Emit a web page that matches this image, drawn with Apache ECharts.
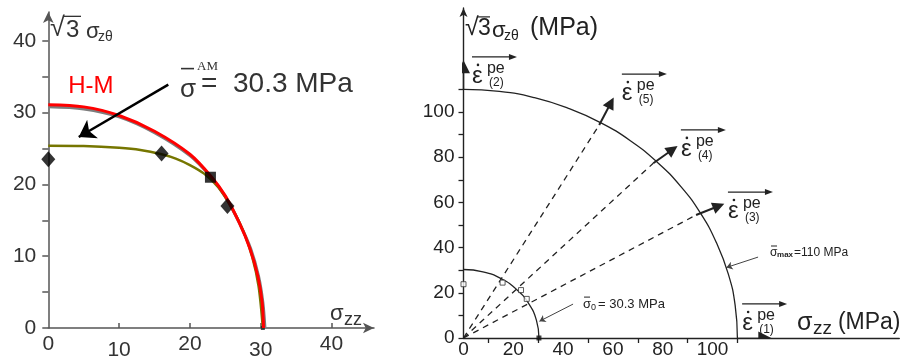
<!DOCTYPE html>
<html><head><meta charset="utf-8">
<script src="https://cdn.jsdelivr.net/npm/echarts@6/dist/echarts.min.js"></script>
<style>html,body{margin:0;padding:0;background:#fff}#c{width:901px;height:361px}</style>
</head><body><div id="c"></div>
<script>
// ---------------- Left panel data ----------------
const leftXLabels = [0, 10, 20, 30, 40];
const leftXTicks = [10, 20, 30, 40];
const leftYLabels = [0, 10, 20, 30, 40];
const leftYTicks = [0, 5, 10, 15, 20, 25, 30, 35, 40];
const hmCurve = [[0,31.1],[5,30.8],[10,29.6],[15,27.4],[20,24.2],[23,21.1],[25,18.4],[27,14.6],[28.5,11.0],[29.6,7.2],[30.2,3.6],[30.4,0]];
const grayCurve = [[0,30.8],[5,30.5],[10,29.4],[15,27.2],[20,24.0],[23,21.0],[25,18.3],[27,14.6],[28.6,11.0],[29.7,7.2],[30.3,3.6],[30.6,0]];
const amCurve = [[0,25.4],[5,25.35],[10,25.1],[13,24.8],[16,24.2],[18,23.6],[20,22.7],[22,21.5],[24,19.6],[26,16.6],[27.5,13.6],[28.8,9.9],[29.7,5.8],[30.3,0]];
const expDiamond = [[0,23.5],[16,24.3],[25.3,17]];
const expSquare = [[22.9,21]];
const expEnd = [[30.3,0]];
const hmLabelAt = [2.8, 33.6];
const amLabelAt = [18.6, 33.9];
const amArrow = [[16.95,33.9],[4.3,26.6]];

// ---------------- Right panel data ----------------
const rightXLabels = [0, 20, 40, 60, 80, 100];
const rightXTicks = [10, 30, 50, 70, 90, 110];
const rightYLabels = [0, 20, 40, 60, 80, 100];
const rightYTicks = [0, 10, 20, 30, 40, 50, 60, 70, 80, 90, 100, 110];
const yield0 = [[0,30.3],[7.8,29.3],[15.2,26.2],[21.4,21.4],[26.2,15.2],[29.3,7.8],[30.3,0]];
const yieldMax = [[0,110],[14.4,109.1],[28.5,106.3],[42.1,101.6],[55,95.3],[67,87.3],[77.8,77.8],[87.3,67],[95.3,55],[101.6,42.1],[106.3,28.5],[109.1,14.4],[110,0]];
const loadPaths = [[[0,0],[93.4,54.4]], [[0,0],[76.2,77.3]], [[0,0],[54.5,94.2]]];
const flowArrows = [[[93.4,54.4],[102.5,58.4]], [[76.2,77.3],[84.0,83.4]], [[54.5,94.2],[59.2,104.1]]];
const axisFlow = [[[110,0],[121,0]], [[0,110],[0,120]]];
const expRight = [[0,23.8],[15.7,24.5],[23.1,21.2],[25.4,17.3]];
const expRightEnd = [[30.3,0]];
const sig0LabelAt = [48, 15];
const sig0Arrow = [[44,15],[30.5,7.4]];
const sigMaxLabelAt = [123.1, 37.6];
const sigMaxArrow = [[118.3,35.8],[105.6,31.2]];
const vecAnchors = [[111.9,7.1],[3.4,116.4],[106.2,56.6],[87.3,84.1],[63.6,108.8]];
const vecIndex = ['(1)','(2)','(3)','(4)','(5)'];
const leftYTitleAt = [0.24, 41.6];
const leftXTitleAt = [39.8, 2.0];
const rightYTitleAt = [0.6, 137.2];
const rightXTitleAt = [133.9, 6.6];

const ink = '#222';
const inkL = '#333';
const FF = '"Liberation Sans", Arial, sans-serif';

const chart = echarts.init(document.getElementById('c'), null, {renderer:'canvas'});

function lo(v){ return (v===10||v===30) ? '{lo|'+v+'}' : '{hi|'+v+'}'; }

const option = {
  animation: false,
  backgroundColor: '#fff',
  grid: [
    {left: 48.3, top: 12.1, width: 325.7, height: 317.2},
    {left: 463.5, top: 8, width: 435.75, height: 330}
  ],
  xAxis: [
    {gridIndex:0, type:'value', min:0, max:46, interval:10,
     axisLine:{show:true, lineStyle:{color:'#555', width:1.5}, symbol:['none','arrow'], symbolSize:[8,11]},
     axisTick:{show:true, inside:true, length:5, customValues:leftXTicks, lineStyle:{color:'#555', width:1.5}},
     axisLabel:{customValues:leftXLabels, margin:6, color:inkL, fontFamily:FF, fontSize:21,
       formatter: lo, rich:{lo:{fontSize:21, fontFamily:FF, color:inkL, padding:[6,0,0,0]}, hi:{fontSize:21, fontFamily:FF, color:inkL}}},
     splitLine:{show:false}},
    {gridIndex:1, type:'value', min:0, max:175, interval:20,
     axisLine:{show:true, lineStyle:{color:ink, width:1.4}},
     axisTick:{show:true, length:5, customValues:rightXTicks, lineStyle:{color:ink, width:1.3}},
     axisLabel:{customValues:rightXLabels, margin:2, color:ink, fontFamily:FF, fontSize:19},
     splitLine:{show:false}}
  ],
  yAxis: [
    {gridIndex:0, type:'value', min:0, max:44, interval:10,
     axisLine:{show:true, lineStyle:{color:'#555', width:1.5}, symbol:['none','arrow'], symbolSize:[8,11]},
     axisTick:{show:true, length:6, customValues:leftYTicks, lineStyle:{color:'#555', width:1.5}},
     axisLabel:{customValues:leftYLabels, margin:12, color:inkL, fontFamily:FF, fontSize:21},
     splitLine:{show:false}},
    {gridIndex:1, type:'value', min:0, max:146, interval:20,
     axisLine:{show:true, lineStyle:{color:ink, width:1.4}, symbol:['none','arrow'], symbolSize:[6,9]},
     axisTick:{show:true, length:5, customValues:rightYTicks, lineStyle:{color:ink, width:1.3}},
     axisLabel:{customValues:rightYLabels, margin:9, color:ink, fontFamily:FF, fontSize:19},
     splitLine:{show:false}}
  ],
  series: [
    {type:'line', xAxisIndex:0, yAxisIndex:0, data:grayCurve, smooth:0.3, symbol:'none', lineStyle:{color:'#7d7d7d', width:3}, z:2},
    {type:'line', xAxisIndex:0, yAxisIndex:0, data:amCurve, smooth:0.3, symbol:'none', lineStyle:{color:'#767600', width:2.5}, z:3},
    {type:'line', xAxisIndex:0, yAxisIndex:0, data:hmCurve, smooth:0.3, symbol:'none', lineStyle:{color:'#ff0000', width:3}, z:4},
    {type:'scatter', xAxisIndex:0, yAxisIndex:0, data:expDiamond, symbol:'diamond', symbolSize:[14,16], itemStyle:{color:'#000'}, z:6},
    {type:'scatter', xAxisIndex:0, yAxisIndex:0, data:expSquare, symbol:'rect', symbolSize:11, itemStyle:{color:'#000'}, z:6},
    {type:'scatter', xAxisIndex:0, yAxisIndex:0, data:expEnd, symbol:'rect', symbolSize:4, itemStyle:{color:'#222'}, z:3},
    {type:'lines', coordinateSystem:'cartesian2d', xAxisIndex:0, yAxisIndex:0, data:[{coords:amArrow}],
     symbol:['none','arrow'], symbolSize:16, lineStyle:{color:'#000', width:2.5, opacity:1}, itemStyle:{color:'#000'}, z:7},

    {type:'line', xAxisIndex:1, yAxisIndex:1, data:yield0, smooth:0.5, symbol:'none', lineStyle:{color:ink, width:1.3}},
    {type:'line', xAxisIndex:1, yAxisIndex:1, data:yieldMax, smooth:0.5, symbol:'none', lineStyle:{color:ink, width:1.3}},
    {type:'lines', coordinateSystem:'cartesian2d', xAxisIndex:1, yAxisIndex:1, data:loadPaths.map(c=>({coords:c})),
     symbol:'none', lineStyle:{color:ink, width:1.3, type:[6,5], opacity:1}},
    {type:'lines', coordinateSystem:'cartesian2d', xAxisIndex:1, yAxisIndex:1, data:flowArrows.map(c=>({coords:c})),
     symbol:['none','triangle'], symbolSize:12, lineStyle:{color:ink, width:2, opacity:1}, itemStyle:{color:ink}},
    {type:'lines', coordinateSystem:'cartesian2d', xAxisIndex:1, yAxisIndex:1, data:axisFlow.map(c=>({coords:c})),
     symbol:['none','triangle'], symbolSize:13, lineStyle:{color:ink, width:1.4, opacity:1}, itemStyle:{color:ink}},
    {type:'lines', coordinateSystem:'cartesian2d', xAxisIndex:1, yAxisIndex:1, data:[{coords:sig0Arrow},{coords:sigMaxArrow}],
     symbol:['none','arrow'], symbolSize:6, lineStyle:{color:'#444', width:1, opacity:1}, itemStyle:{color:'#444'}},
    {type:'scatter', xAxisIndex:1, yAxisIndex:1, data:expRight, symbol:'rect', symbolSize:5, itemStyle:{color:'#fff', borderColor:'#333', borderWidth:1}, z:6},
    {type:'scatter', xAxisIndex:1, yAxisIndex:1, data:expRightEnd, symbol:'rect', symbolSize:5, itemStyle:{color:'#111'}, z:6}
  ]
};
chart.setOption(option);

const P0 = p => chart.convertToPixel({gridIndex:0}, p);
const P1 = p => chart.convertToPixel({gridIndex:1}, p);
function T(text, x, y, size, extra){
  return {type:'text', x:x, y:y, z:100, style:Object.assign({text:text, font:size+'px '+FF, fill:ink, align:'left', verticalAlign:'middle'}, extra||{})};
}
function L(x1,y1,x2,y2,w,c){ return {type:'line', z:100, shape:{x1,y1,x2,y2}, style:{stroke:c||ink, lineWidth:w||1}}; }
function H(x,y,len,hw,c){ return {type:'polygon', z:100, shape:{points:[[x,y],[x-len,y-hw],[x-len,y+hw]]}, style:{fill:c||ink}}; }

const g = [];
// left y title
(function(){ const [x,y]=P0(leftYTitleAt);
  g.push(T('√', x, y-1, 27, {fill:inkL}));
  g.push(L(x+14, y-13, x+31, y-13, 1.3, inkL));
  g.push(T('3', x+16, y+1, 24, {fill:inkL}));
  g.push(T('σ', x+36, y+3, 22, {fill:inkL}));
  g.push(T('zθ', x+48, y+8, 14, {fill:inkL}));
})();
// left x title
(function(){ const [x,y]=P0(leftXTitleAt);
  g.push(T('σ', x, y, 22, {fill:inkL}));
  g.push(T('zz', x+14, y+6, 18, {fill:inkL}));
})();
// H-M
(function(){ const [x,y]=P0(hmLabelAt); g.push(T('H-M', x, y, 24, {fill:'#ff0000'})); })();
// sigma AM label
(function(){ const [x,y]=P0(amLabelAt);
  g.push(T('σ', x, y+5, 26, {fill:'#333'}));
  g.push(L(x+1, y-16, x+14, y-16, 1.6, '#333'));
  g.push(T('AM', x+17, y-18, 13, {fill:'#333', font:'13px "Liberation Serif", serif'}));
  g.push(T('=', x+21, y, 28, {fill:'#333'}));
  g.push(T('30.3 MPa', x+53, y, 28, {fill:'#333'}));
})();
// right y title
(function(){ const [x,y]=P1(rightYTitleAt);
  g.push(T('√', x, y, 25));
  g.push(L(x+12, y-11, x+25, y-11, 1.2));
  g.push(T('3', x+13, y+1, 23));
  g.push(T('σ', x+27, y+3, 22));
  g.push(T('zθ', x+39, y+8, 14));
  g.push(T('(MPa)', x+65, y, 25));
})();
// right x title
(function(){ const [x,y]=P1(rightXTitleAt);
  g.push(T('σ', x, y, 25));
  g.push(T('zz', x+16, y+6, 19));
  g.push(T('(MPa)', x+41, y, 23));
})();
// sigma0 label
(function(){ const [x,y]=P1(sig0LabelAt);
  g.push(T('σ', x, y, 13));
  g.push(L(x+1, y-7, x+7, y-7, 1));
  g.push(T('0', x+8, y+3, 9));
  g.push(T('= 30.3 MPa', x+15, y, 13));
})();
// sigma max label
(function(){ const [x,y]=P1(sigMaxLabelAt);
  g.push(T('σ', x, y, 12));
  g.push(L(x+1, y-7, x+7, y-7, 1));
  g.push(T('max', x+7, y+2, 8, {font:'bold 8px '+FF}));
  g.push(T('=110 MPa', x+24, y, 12));
})();
// strain-rate vector labels
vecAnchors.forEach((a,i)=>{
  const [x,y]=P1(a);
  g.push(T('ε', x, y+1, 24));
  g.push({type:'circle', z:100, shape:{cx:x+6, cy:y-10, r:1.3}, style:{fill:ink}});
  g.push(T('pe', x+15, y-6, 16));
  g.push(T(vecIndex[i], x+17, y+8, 12));
  g.push(L(x, y-18, x+38, y-18, 1.2));
  g.push(H(x+45, y-18, 8, 3));
});
chart.setOption({graphic: g});
</script>
</body></html>
